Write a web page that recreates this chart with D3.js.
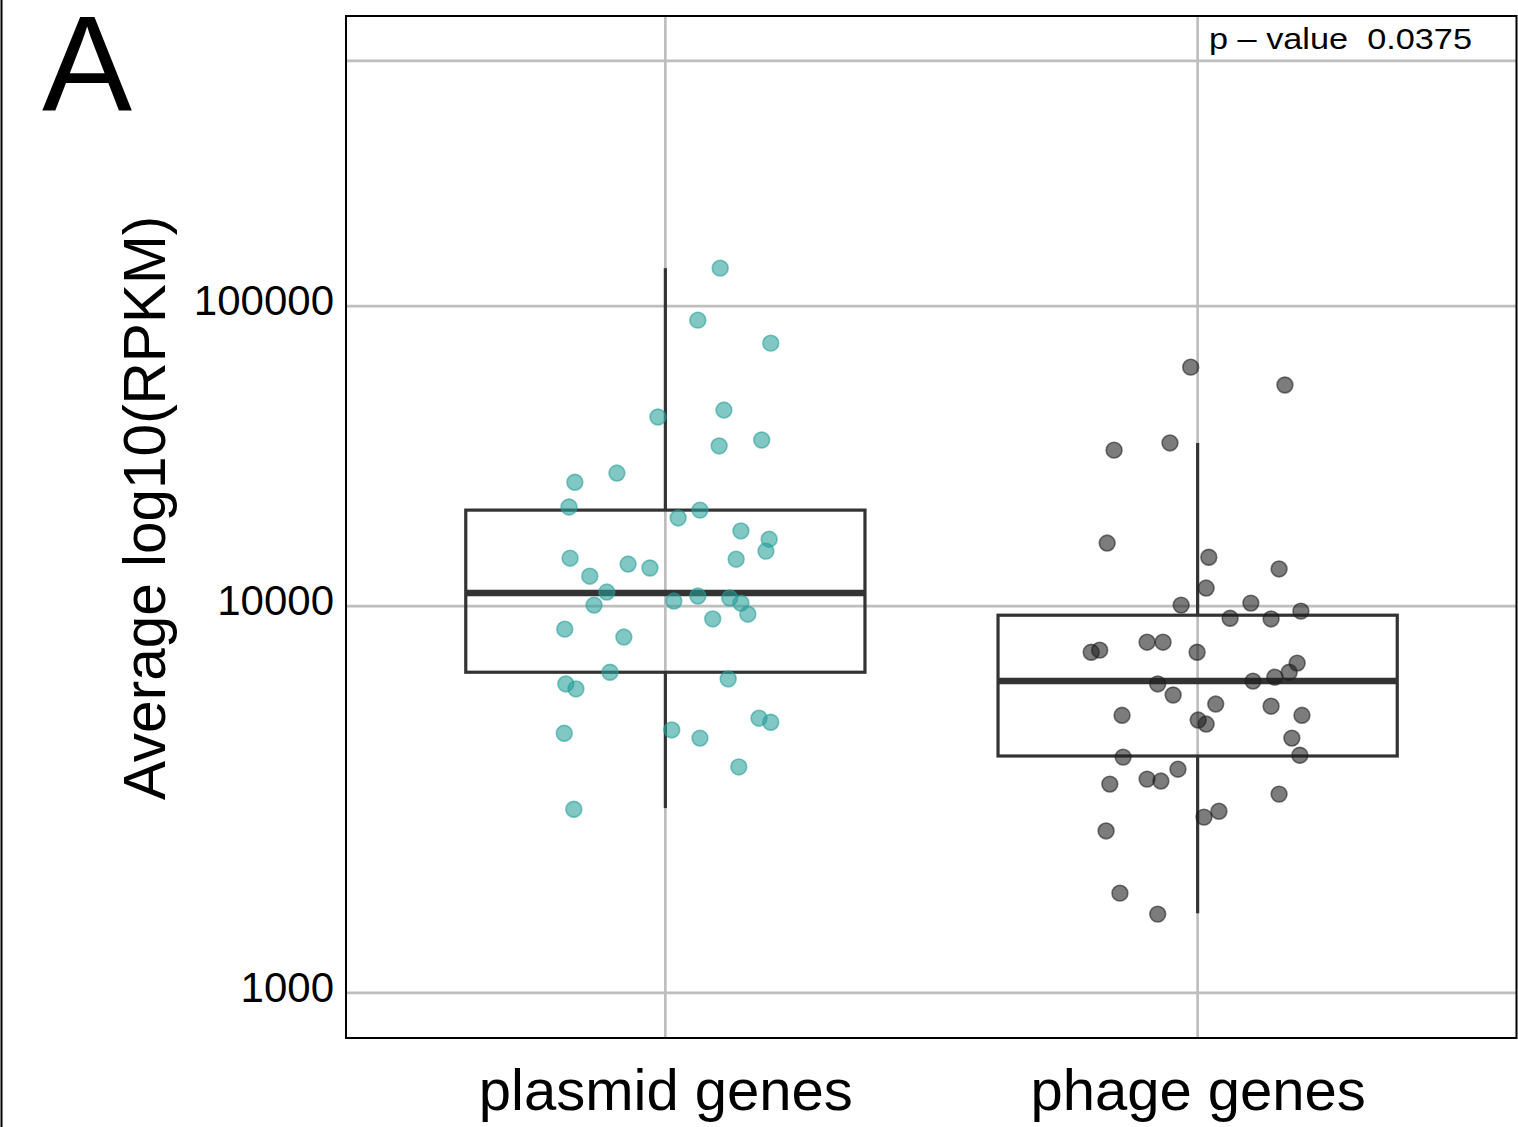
<!DOCTYPE html>
<html>
<head>
<meta charset="utf-8">
<script src="https://cdn.jsdelivr.net/npm/d3@7"></script>
<style>
  html, body { margin: 0; padding: 0; background: #fff; }
  svg { display: block; font-family: "Liberation Sans", Arial, Helvetica, sans-serif; }
</style>
</head>
<body>
<svg id="chart" width="1518" height="1127"></svg>
<script>
// ---------- data (values are log10(RPKM)) ----------
const categories = ["plasmid genes", "phage genes"];

const plasmidValues = [5.143, 4.948, 4.864, 4.628, 4.604, 4.506, 4.526, 4.416, 4.386, 4.306,
  4.296, 4.271, 4.230, 4.204, 4.167, 4.145, 4.142, 4.127, 4.115, 4.090,
  4.042, 4.003, 4.015, 4.030, 4.024, 4.009, 3.976, 3.962, 3.932, 3.909,
  3.808, 3.775, 3.761, 3.789, 3.680, 3.669, 3.639, 3.648, 3.626, 3.549, 3.439];
const plasmidJitter = [0.103, 0.061, 0.198, 0.110, -0.014, 0.101, 0.181, -0.091, -0.170, -0.181,
  0.065, 0.024, 0.142, 0.195, 0.189, -0.179, 0.133, -0.070, -0.029, -0.142,
  -0.110, -0.134, 0.016, 0.061, 0.121, 0.142, 0.155, 0.089, -0.189, -0.078,
  -0.104, -0.187, -0.168, 0.118, 0.176, 0.198, -0.190, 0.012, 0.065, 0.138, -0.172];

const phageValues = [4.778, 4.715, 4.516, 4.492, 4.192, 4.148, 4.112, 4.054, 4.003, 4.009,
  3.985, 3.964, 3.962, 3.865, 3.871, 3.894, 3.894, 3.865, 3.834, 3.808,
  3.794, 3.783, 3.775, 3.744, 3.719, 3.713, 3.688, 3.688, 3.675, 3.664,
  3.626, 3.575, 3.580, 3.543, 3.517, 3.512, 3.504, 3.478, 3.434, 3.419,
  3.384, 3.231, 3.181];
const phageJitter = [-0.013, 0.164, -0.052, -0.157, -0.170, 0.021, 0.153, 0.016, -0.031, 0.100,
  0.194, 0.061, 0.138, -0.200, -0.184, -0.095, -0.065, -0.001, 0.187, 0.172,
  0.145, 0.104, -0.075, -0.046, 0.034, 0.138, -0.142, 0.196, 0.001, 0.016,
  0.177, -0.140, 0.192, -0.037, -0.095, -0.069, -0.165, 0.153, 0.040, 0.012,
  -0.172, -0.146, -0.075];

// box statistics per category (log10 units)
const whiskerLow  = [3.442, 3.183];
const quartile1   = [3.808, 3.578];
const medians     = [4.039, 3.783];
const quartile3   = [4.296, 3.973];
const whiskerHigh = [5.143, 4.516];

const yTicks = [3, 4, 5, 6];
const yTickLabels = ["1000", "10000", "100000", ""];
const pValueLabel = "p \u2013 value  0.0375";
const yTitle = "Average log10(RPKM)";
const panelLetter = "A";

// ---------- layout ----------
const svg = d3.select("#chart");
const panelLeft = 346, panelRight = 1517, panelTop = 16, panelBottom = 1038;

const x = d3.scalePoint().domain(categories).range([panelLeft, panelRight]).padding(0.6);
const y = d3.scaleLog().domain([2.901, 6.204]).range([panelBottom, panelTop]);
const step = x.step();

const pointColors = ["#269E99", "#1E1E1E"];

// outer left rule
svg.append("line").attr("x1", 1.5).attr("x2", 1.5).attr("y1", 0).attr("y2", 1127)
  .attr("stroke", "#000").attr("stroke-width", 2);

// panel background
svg.append("rect").attr("x", panelLeft).attr("y", panelTop)
  .attr("width", panelRight - panelLeft).attr("height", panelBottom - panelTop)
  .attr("fill", "#fff");

// grid lines
const grid = svg.append("g");
grid.selectAll("line.h").data(yTicks).join("line").attr("class", "h")
  .attr("x1", panelLeft).attr("x2", panelRight)
  .attr("y1", d => y(d)).attr("y2", d => y(d))
  .attr("stroke", "#BEBEBE").attr("stroke-width", 2.7);
grid.selectAll("line.v").data(categories).join("line").attr("class", "v")
  .attr("x1", d => x(d)).attr("x2", d => x(d))
  .attr("y1", panelTop).attr("y2", panelBottom)
  .attr("stroke", "#BEBEBE").attr("stroke-width", 2.7);

// y axis labels
const yAxis = d3.axisLeft(y).tickValues(yTicks)
  .tickFormat((d, i) => yTickLabels[i]).tickSize(0).tickPadding(12);
const yg = svg.append("g").attr("transform", `translate(${panelLeft},0)`).call(yAxis);
yg.select(".domain").remove();
yg.selectAll("text").attr("font-size", 42).attr("fill", "#000")
  .attr("font-family", "'Liberation Sans', Arial, Helvetica, sans-serif")
  .attr("dy", "0.2em");

// x axis labels
const xAxis = d3.axisBottom(x).tickSize(0).tickPadding(0);
const xg = svg.append("g").attr("transform", `translate(0,${panelBottom})`).call(xAxis);
xg.select(".domain").remove();
xg.selectAll("text").attr("font-size", 58).attr("fill", "#000")
  .attr("font-family", "'Liberation Sans', Arial, Helvetica, sans-serif")
  .attr("y", 72).attr("dy", 0);

// boxplots
const boxW = 0.75 * step;
const boxes = svg.append("g");
categories.forEach((c, i) => {
  const cx = x(c);
  const g = boxes.append("g");
  g.append("line").attr("x1", cx).attr("x2", cx)
    .attr("y1", y(quartile3[i])).attr("y2", y(whiskerHigh[i]))
    .attr("stroke", "#333").attr("stroke-width", 3.2);
  g.append("line").attr("x1", cx).attr("x2", cx)
    .attr("y1", y(quartile1[i])).attr("y2", y(whiskerLow[i]))
    .attr("stroke", "#333").attr("stroke-width", 3.2);
  g.append("rect").attr("x", cx - boxW / 2).attr("width", boxW)
    .attr("y", y(quartile3[i])).attr("height", y(quartile1[i]) - y(quartile3[i]))
    .attr("fill", "none").attr("stroke", "#333").attr("stroke-width", 3.2);
  g.append("line").attr("x1", cx - boxW / 2).attr("x2", cx + boxW / 2)
    .attr("y1", y(medians[i])).attr("y2", y(medians[i]))
    .attr("stroke", "#333").attr("stroke-width", 6.5);
});

// jittered points
const seriesValues = [plasmidValues, phageValues];
const seriesJitter = [plasmidJitter, phageJitter];
const pts = svg.append("g");
categories.forEach((c, i) => {
  const data = seriesValues[i].map((v, j) => ({ v, j: seriesJitter[i][j] }));
  pts.append("g").selectAll("circle").data(data).join("circle")
    .attr("cx", d => x(c) + d.j * step)
    .attr("cy", d => y(d.v))
    .attr("r", 7.9)
    .attr("fill", pointColors[i]).attr("fill-opacity", 0.58)
    .attr("stroke", pointColors[i]).attr("stroke-opacity", 0.58).attr("stroke-width", 1.6);
});

// panel border
svg.append("rect").attr("x", panelLeft).attr("y", panelTop)
  .attr("width", panelRight - panelLeft - 0.5).attr("height", panelBottom - panelTop)
  .attr("fill", "none").attr("stroke", "#000").attr("stroke-width", 2);

// p-value annotation
svg.append("text").attr("x", 1209).attr("y", 49)
  .attr("font-size", 30).attr("fill", "#000")
  .attr("textLength", 263).attr("lengthAdjust", "spacingAndGlyphs")
  .style("white-space", "pre")
  .text(pValueLabel);

// y title
svg.append("text")
  .attr("transform", "translate(165,508) rotate(-90)")
  .attr("text-anchor", "middle").attr("font-size", 58.5).attr("fill", "#000")
  .text(yTitle);

// panel letter
svg.append("text").attr("x", 42).attr("y", 110)
  .attr("font-size", 135).attr("fill", "#000")
  .text(panelLetter);
</script>
</body>
</html>
